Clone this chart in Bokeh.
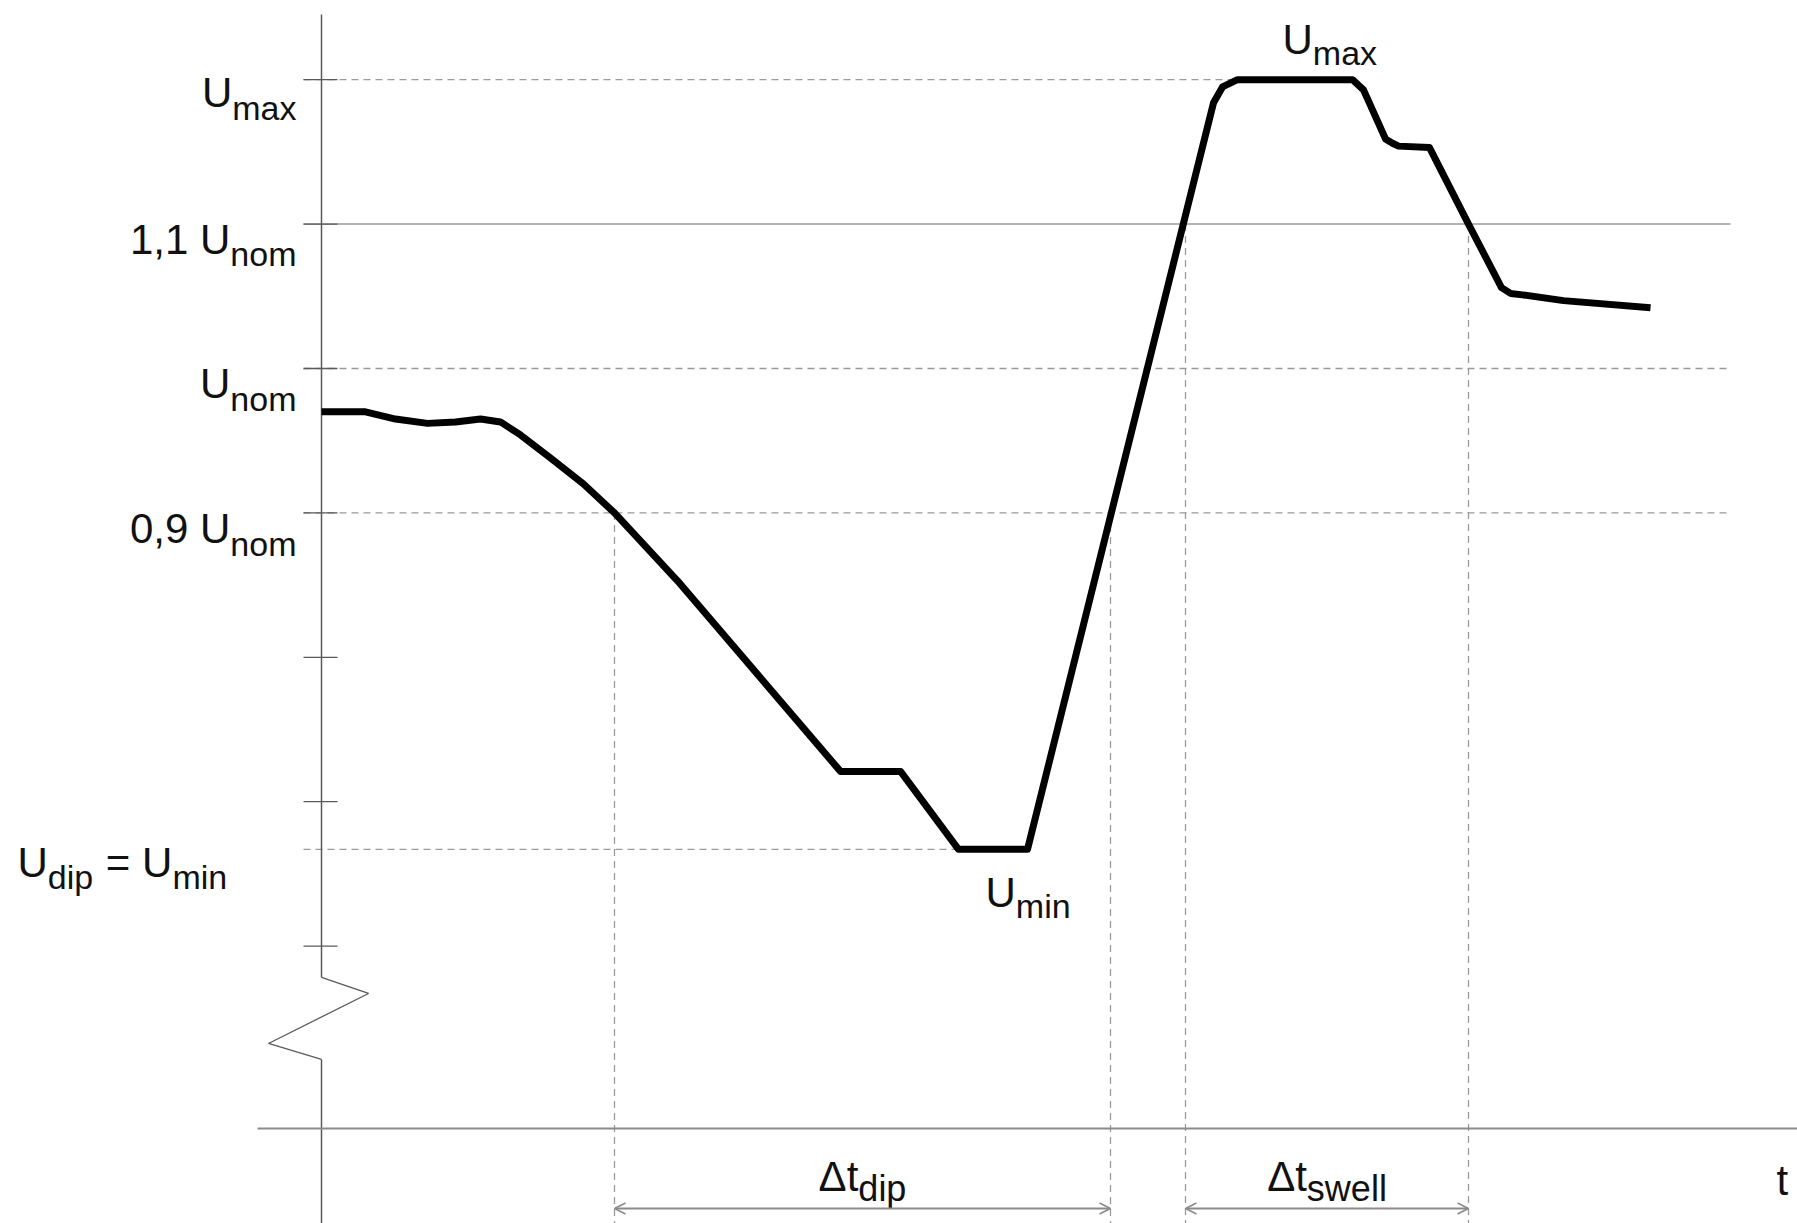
from bokeh.plotting import figure
from bokeh.models import ColumnDataSource, Range1d, Arrow, OpenHead
from bokeh.core.properties import value
from bokeh.embed import file_html
from bokeh.resources import INLINE

# ---------------- data (time in arbitrary units, voltage in p.u. of U_nom) -------------
t_curve = [0.00, 0.44, 0.74, 1.06, 1.34, 1.59, 1.79, 1.99, 2.29, 2.62, 2.93, 3.56,
           5.19, 5.79, 6.37, 7.06, 8.92, 9.01, 9.16, 10.31, 10.42, 10.64, 10.71,
           10.77, 11.08, 11.47, 11.80, 11.89, 12.01, 12.42, 13.29]
u_curve = [0.970, 0.970, 0.965, 0.962, 0.963, 0.965, 0.963, 0.954, 0.938, 0.920, 0.900, 0.853,
           0.721, 0.721, 0.667, 0.667, 1.184, 1.195, 1.200, 1.200, 1.193, 1.159, 1.156,
           1.154, 1.153, 1.100, 1.056, 1.052, 1.051, 1.047, 1.042]

U_MAX, U_HI, U_NOM, U_LO, U_MIN = 1.20, 1.10, 1.00, 0.90, 0.667
tick_levels = [1.2, 1.1, 1.0, 0.9, 0.8, 0.7, 0.6]
crossing_t = [2.93, 7.89, 8.64, 11.47]      # dip start, dip end, swell start, swell end
crossing_u = [0.90, 0.90, 1.10, 1.10]
U_BASE = 0.4737                            # level of the (broken) time axis
T_PLATEAU_MAX = 9.16                       # start of the U_max plateau
T_PLATEAU_MIN = 6.37                       # end of the U_min plateau

# ---------------- layout ----------------
W, H = 1797, 1223
PX_T, PX_U = 100.0, 1444.0      # pixels per time unit / per p.u.
ORIGIN_X, UNOM_Y = 321.0, 368.0  # figure pixel position of t=0 and of u=1.0

def dt(px):
    return px / PX_T

def du(px):
    return px / PX_U

x0 = -ORIGIN_X / PX_T
x1 = (W - ORIGIN_X) / PX_T
y1 = 1.0 + UNOM_Y / PX_U
y0 = 1.0 - (H - UNOM_Y) / PX_U

p = figure(width=W, height=H, output_backend="svg", toolbar_location=None,
           x_range=Range1d(x0, x1), y_range=Range1d(y0, y1),
           x_axis_location=None, y_axis_location=None, min_border=0)
p.grid.visible = False
p.outline_line_color = None
p.background_fill_color = "white"
p.border_fill_color = "white"

GRID = "#9a9a9a"
AXIS = "#5a5a5a"
LINE_END = dt(1730 - 321)
TICK_L, TICK_R = dt(-18), dt(16)

# horizontal reference lines
dashed = [(U_MAX, T_PLATEAU_MAX), (U_NOM, LINE_END), (U_LO, LINE_END), (U_MIN, T_PLATEAU_MIN)]
p.segment(x0=[TICK_L] * len(dashed), y0=[d[0] for d in dashed],
          x1=[d[1] for d in dashed], y1=[d[0] for d in dashed],
          line_color=GRID, line_width=1.3, line_dash="7 5")
p.segment(x0=[TICK_L], y0=[U_HI], x1=[LINE_END], y1=[U_HI], line_color=GRID, line_width=1.5)

# ticks on the voltage axis
p.segment(x0=[TICK_L] * len(tick_levels), y0=tick_levels,
          x1=[TICK_R] * len(tick_levels), y1=tick_levels, line_color=AXIS, line_width=1.3)

# vertical dashed lines from crossings
p.segment(x0=crossing_t, y0=crossing_u, x1=crossing_t, y1=[y0] * 4,
          line_color=GRID, line_width=1.3, line_dash="7 5")

# voltage axis with break
U_AXIS_TOP = 1.0 + du(368 - 14)
br_top = U_BASE + du(1128 - 977)
br_bot = U_BASE + du(1128 - 1059)
p.line([0, 0], [U_AXIS_TOP, br_top], line_color=AXIS, line_width=1.5)
p.line([0, dt(47), dt(-53), 0], [br_top, br_top - du(16), br_bot + du(16), br_bot],
       line_color=AXIS, line_width=1.3)
p.line([0, 0], [br_bot, y0], line_color=AXIS, line_width=1.5)

# time axis
p.line([dt(-64), x1], [U_BASE, U_BASE], line_color="#8a8a8a", line_width=2)

# voltage curve
p.line(t_curve, u_curve, line_color="black", line_width=7, line_join="round")

# duration arrows
U_ARROW = U_BASE - du(80)
for a, b in [(crossing_t[0], crossing_t[1]), (crossing_t[2], crossing_t[3])]:
    p.add_layout(Arrow(start=OpenHead(size=11, line_color="#8a8a8a", line_width=1.5),
                       end=OpenHead(size=11, line_color="#8a8a8a", line_width=1.5),
                       x_start=a, y_start=U_ARROW, x_end=b, y_end=U_ARROW,
                       line_color="#8a8a8a", line_width=2))

# ---------------- labels with subscripts ----------------
CW = {'U': 722, 'm': 833, 'a': 556, 'x': 500, 'n': 556, 'o': 556, ' ': 278, '1': 556,
      ',': 278, '0': 556, '9': 556, 'd': 556, 'i': 222, 'p': 556, '=': 584, 'Δ': 668,
      't': 278, 's': 500, 'w': 722, 'e': 556, 'l': 222}

rows = dict(x=[], y=[], text=[], size=[], xo=[], yo=[])

def label(x, y, segs, align="left", dy=13, sub_dy=15, main=42, sub=34):
    sizes = [sub if is_sub else main for _, is_sub in segs]
    widths = [sum(CW.get(c, 556) for c in s) * sz / 1000.0 for (s, _), sz in zip(segs, sizes)]
    total = sum(widths)
    start = {"left": 0.0, "right": -total, "center": -total / 2.0}[align]
    cum = start
    for (s, is_sub), w, sz in zip(segs, widths, sizes):
        lead = len(s) - len(s.lstrip(" "))
        rows["x"].append(x)
        rows["y"].append(y)
        rows["text"].append(s.strip(" "))
        rows["size"].append(f"{sz}px")
        rows["xo"].append(cum + lead * CW[' '] * sz / 1000.0)
        rows["yo"].append(dy + (sub_dy if is_sub else 0))
        cum += w + (1 if is_sub else 0)

LBL_X = dt(-25)
label(LBL_X, U_MAX, [("U", False), ("max", True)], align="right", dy=13)
label(LBL_X, U_HI, [("1,1 U", False), ("nom", True)], align="right", dy=15)
label(LBL_X, U_NOM, [("U", False), ("nom", True)], align="right", dy=15)
label(LBL_X, U_LO, [("0,9 U", False), ("nom", True)], align="right", dy=16)
label(dt(17 - 321), U_MIN, [("U", False), ("dip", True), (" = U", False), ("min", True)],
      align="left", dy=13)
label(dt(985 - 321), U_MIN, [("U", False), ("min", True)], dy=43, sub_dy=14)
label(dt(1282 - 321), U_MAX, [("U", False), ("max", True)], dy=-40, sub_dy=13)
label((crossing_t[0] + crossing_t[1]) / 2, U_BASE, [("Δt", False), ("dip", True)],
      align="center", dy=48, sub_dy=12, sub=36)
label((crossing_t[2] + crossing_t[3]) / 2, U_BASE, [("Δt", False), ("swell", True)],
      align="center", dy=48, sub_dy=12, sub=36)
label(dt(1776 - 321), U_BASE, [("t", False)], dy=52)

src = ColumnDataSource(rows)
p.text(x="x", y="y", text="text", source=src, text_font_size="size",
       x_offset="xo", y_offset="yo", text_align="left", text_baseline="alphabetic",
       text_font=value("Liberation Sans"), text_color="#111111")

open("out.html", "w").write(file_html(p, INLINE))
